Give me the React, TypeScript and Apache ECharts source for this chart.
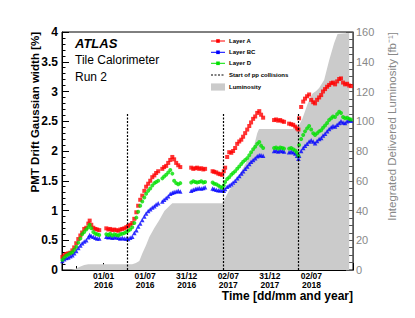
import React, { useEffect, useRef } from "react";
import * as echarts from "echarts";

// Day offsets relative to 01/01/2016
const days = [
  -181, -173, -164, -155, -146, -137, -129, -120, -111, -102, -94, -85, -76, -67, -61, -54, -45, -36, -28, -19,
  12, 21, 29, 38, 47, 56, 65, 73, 82, 91, 100, 108, 117, 126, 135, 144, 152, 161, 170, 179, 187, 196, 205, 214, 223, 231, 240,
  258, 266, 275, 284, 293, 302, 310, 319, 328, 337,
  385, 394, 403, 411, 420, 429, 438, 446, 479, 486, 495, 504, 512, 521, 528,
  534, 543, 552, 561, 569, 578, 587, 596, 605, 613, 622, 631, 640, 648, 657, 666, 675, 684, 692, 701,
  749, 758, 767, 776, 785, 793,
  815, 824, 833, 842, 850, 856,
  859, 868, 877, 885, 894, 903, 912, 921, 929, 938, 947, 956, 964, 973, 982, 991, 1000, 1008, 1017, 1026, 1035, 1043, 1052, 1061, 1070, 1079, 1087,
];

const layerA = [
  0.22, 0.25, 0.27, 0.28, 0.29, 0.33, 0.38, 0.45, 0.52, 0.58, 0.63, 0.69, 0.71, 0.78, 0.83, 0.76, 0.71, 0.69, 0.68, 0.67,
  0.70, 0.68, 0.69, 0.67, 0.68, 0.67, 0.66, 0.68, 0.69, 0.70, 0.72, 0.74, 0.76, 0.79, 0.86, 0.97, 1.08, 1.18, 1.25, 1.33, 1.40, 1.45, 1.50, 1.56, 1.59, 1.63, 1.66,
  1.70, 1.73, 1.75, 1.80, 1.85, 1.90, 1.86, 1.80, 1.76, 1.73,
  1.72, 1.70, 1.71, 1.72, 1.70, 1.71, 1.69, 1.70, 1.66, 1.65, 1.64, 1.62, 1.61, 1.60, 1.66,
  1.72, 1.90, 1.98, 1.97, 2.00, 2.05, 2.12, 2.16, 2.19, 2.24, 2.30, 2.36, 2.42, 2.48, 2.54, 2.58, 2.64, 2.67, 2.61, 2.56,
  2.52, 2.53, 2.51, 2.52, 2.50, 2.49,
  2.46, 2.45, 2.44, 2.41, 2.38, 2.36,
  2.55, 2.74, 2.83, 2.88, 2.92, 2.95, 2.86, 2.82, 2.80, 2.86, 2.90, 2.94, 3.00, 3.04, 3.08, 3.11, 3.14, 3.15, 3.12, 3.17, 3.21, 3.22, 3.15, 3.12, 3.13, 3.10, 3.09,
];

const layerBC = [
  0.15, 0.18, 0.20, 0.21, 0.23, 0.25, 0.28, 0.32, 0.37, 0.41, 0.45, 0.48, 0.50, 0.55, 0.59, 0.57, 0.56, 0.54, 0.53, 0.53,
  0.56, 0.55, 0.56, 0.54, 0.55, 0.55, 0.54, 0.53, 0.54, 0.53, 0.53, 0.52, 0.54, 0.56, 0.62, 0.67, 0.73, 0.78, 0.84, 0.90, 0.95, 0.99, 1.02, 1.05, 1.07, 1.10, 1.12,
  1.15, 1.18, 1.21, 1.24, 1.28, 1.30, 1.31, 1.32, 1.33, 1.32,
  1.33, 1.35, 1.36, 1.37, 1.38, 1.37, 1.38, 1.39, 1.37, 1.36, 1.35, 1.34, 1.34, 1.34, 1.33,
  1.36, 1.40, 1.42, 1.44, 1.47, 1.50, 1.54, 1.58, 1.62, 1.66, 1.70, 1.74, 1.78, 1.82, 1.85, 1.88, 1.91, 1.93, 1.93, 1.92,
  2.00, 2.01, 1.99, 2.01, 2.00, 1.99,
  1.98, 1.99, 1.98, 1.96, 1.92, 1.87,
  1.92, 2.00, 2.05, 2.09, 2.12, 2.16, 2.18, 2.16, 2.13, 2.17, 2.20, 2.22, 2.26, 2.29, 2.33, 2.37, 2.40, 2.42, 2.41, 2.44, 2.47, 2.50, 2.48, 2.47, 2.50, 2.52, 2.51,
];

const layerD = [
  0.17, 0.21, 0.24, 0.26, 0.28, 0.30, 0.34, 0.39, 0.46, 0.53, 0.60, 0.64, 0.68, 0.72, 0.76, 0.70, 0.64, 0.61, 0.60, 0.59,
  0.60, 0.59, 0.61, 0.58, 0.60, 0.59, 0.58, 0.60, 0.61, 0.62, 0.64, 0.66, 0.68, 0.72, 0.79, 0.88, 0.98, 1.08, 1.15, 1.22, 1.28, 1.33, 1.37, 1.42, 1.46, 1.48, 1.50,
  1.54, 1.57, 1.60, 1.64, 1.68, 1.62, 1.50, 1.46, 1.44, 1.46,
  1.47, 1.49, 1.48, 1.47, 1.48, 1.49, 1.47, 1.48, 1.47, 1.45, 1.44, 1.42, 1.40, 1.38, 1.42,
  1.48, 1.53, 1.56, 1.60, 1.63, 1.66, 1.70, 1.74, 1.78, 1.82, 1.85, 1.88, 1.93, 1.98, 2.03, 2.07, 2.12, 2.15, 2.09, 2.05,
  2.05, 2.06, 2.04, 2.06, 2.05, 2.04,
  2.04, 2.05, 2.03, 2.01, 1.97, 1.92,
  2.10, 2.20, 2.27, 2.33, 2.38, 2.42, 2.36, 2.30, 2.27, 2.30, 2.33, 2.35, 2.39, 2.43, 2.47, 2.52, 2.55, 2.58, 2.57, 2.62, 2.66, 2.64, 2.57, 2.55, 2.56, 2.54, 2.53,
];

// Integrated delivered luminosity [fb^-1]
const lumDays = [
  -142, -124, -107, -85, -67, 126, 142, 157, 171, 187, 201, 223, 245, 267, 289, 302, 522, 530, 552, 574, 596, 618, 640,
  662, 675, 683, 852, 859, 874, 897, 918, 934, 947, 969, 991, 1013, 1028, 1079,
];
const lumValues = [
  0, 0.7, 2.0, 3.4, 3.8, 3.9, 4.7, 6.1, 11.4, 16.8, 22.2, 28.2, 33.6, 39.7, 43.0, 44.8, 44.8, 47.0, 53.8, 57.8, 63.9, 70.0, 76.0,
  84.0, 92.0, 94.8, 94.8, 97.5, 102.0, 112.0, 118.7, 120.3, 122.4, 127.7, 141.0, 152.6, 158.7, 159.3,
];

const ppStartDays = [106, 527, 856];
const ppLineTop = 2.63;

const xTickLabels = ["01/01\n2016", "01/07\n2016", "31/12\n2016", "02/07\n2017", "31/12\n2017", "02/07\n2018"];
const HALF_YEAR = 182.625;

const legendItems = ["Layer A", "Layer BC", "Layer D", "Start of pp collisions", "Luminosity"];

export default function App() {
  const ref = useRef<HTMLDivElement>(null);
  useEffect(() => {
    const chart = echarts.init(ref.current!, null, { renderer: "svg" });
    const font = "'Liberation Sans', Arial, Helvetica, sans-serif";
    const zip = (vals: number[]) => days.map((d, i) => [d, vals[i]]);
    const lumData = lumDays.map((d, i) => [d, lumValues[i]]);

    const legendX1 = 211;
    const legendX2 = 225;
    const legendTextX = 229;
    const legendY = [41, 52.3, 63.3, 75, 87];
    const legendColors = ["#ff0000", "#0000ff", "#00e000"];
    const legendGraphics: any[] = [];
    legendColors.forEach((c, i) => {
      legendGraphics.push({
        type: "line",
        shape: { x1: legendX1, y1: legendY[i], x2: legendX2, y2: legendY[i] },
        style: { stroke: c, lineWidth: 1 },
      });
      legendGraphics.push({
        type: "rect",
        shape: { x: 216.2, y: legendY[i] - 1.8, width: 3.6, height: 3.6 },
        style: { fill: c },
      });
    });
    legendGraphics.push({
      type: "line",
      shape: { x1: legendX1, y1: legendY[3], x2: legendX2, y2: legendY[3] },
      style: { stroke: "#000", lineWidth: 1.2, lineDash: [2, 1.5] },
    });
    legendGraphics.push({
      type: "rect",
      shape: { x: legendX1, y: legendY[4] - 3.6, width: legendX2 - legendX1, height: 7.2 },
      style: { fill: "#cbcbcb" },
    });
    legendItems.forEach((t, i) => {
      legendGraphics.push({
        type: "text",
        x: legendTextX,
        y: legendY[i],
        style: {
          text: t,
          fontFamily: font,
          fontSize: 6,
          fontWeight: "bold",
          fill: "#000",
          align: "left",
          verticalAlign: "middle",
        },
      });
    });

    const option: any = {
      animation: false,
      backgroundColor: "#fff",
      grid: {
        left: 62,
        right: 62,
        top: 32,
        bottom: 48,
        show: true,
        borderColor: "#000",
        borderWidth: 1,
        backgroundColor: "transparent",
      },
      xAxis: {
        type: "value",
        min: -HALF_YEAR,
        max: 6 * HALF_YEAR,
        interval: HALF_YEAR,
        axisLine: { show: true, onZero: false, lineStyle: { color: "#000", width: 1 } },
        axisTick: { show: true, inside: true, length: 7, lineStyle: { color: "#000" } },
        minorTick: { show: true, splitNumber: 3, length: 4, lineStyle: { color: "#000" } },
        splitLine: { show: false },
        minorSplitLine: { show: false },
        axisLabel: {
          show: true,
          margin: 2,
          fontFamily: font,
          fontSize: 8.5,
          fontWeight: "bold",
          color: "#000",
          lineHeight: 8.5,
          showMinLabel: true,
          showMaxLabel: true,
          formatter: (v: number) => {
            const idx = Math.round(v / HALF_YEAR);
            return idx >= 0 && idx < xTickLabels.length ? xTickLabels[idx] : "";
          },
        },
      },
      yAxis: [
        {
          type: "value",
          position: "left",
          min: 0,
          max: 4,
          interval: 0.5,
          axisLine: { show: true, onZero: false, lineStyle: { color: "#000", width: 1 } },
          axisTick: { show: true, inside: true, length: 7, lineStyle: { color: "#000" } },
          minorTick: { show: true, splitNumber: 5, length: 3.5, lineStyle: { color: "#000" } },
          splitLine: { show: false },
          axisLabel: {
            margin: 4,
            fontFamily: font,
            fontSize: 12,
            fontWeight: "bold",
            color: "#000",
          },
        },
        {
          type: "value",
          position: "right",
          min: 0,
          max: 160,
          interval: 20,
          axisLine: { show: true, onZero: false, lineStyle: { color: "#555", width: 1 } },
          axisTick: { show: true, inside: true, length: 7, lineStyle: { color: "#555" } },
          minorTick: { show: true, splitNumber: 4, length: 4, lineStyle: { color: "#555" } },
          splitLine: { show: false },
          axisLabel: {
            margin: 3,
            fontFamily: font,
            fontSize: 11,
            color: "#888",
          },
        },
      ],
      series: [
        {
          name: "Luminosity",
          type: "line",
          yAxisIndex: 1,
          data: lumData,
          showSymbol: false,
          symbol: "none",
          lineStyle: { width: 0 },
          areaStyle: { color: "#cbcbcb", opacity: 1 },
          color: "#cbcbcb",
          silent: true,
          z: 1,
        },
        {
          name: "Start of pp collisions",
          type: "line",
          data: [],
          silent: true,
          z: 3,
          markLine: {
            silent: true,
            symbol: ["none", "none"],
            label: { show: false },
            lineStyle: { color: "#000", type: [2, 1.5], width: 1.2 },
            data: ppStartDays.map((d) => [{ coord: [d, 0] }, { coord: [d, ppLineTop] }]),
          },
        },
        {
          name: "Layer A",
          type: "scatter",
          data: zip(layerA),
          symbol: "rect",
          symbolSize: 4,
          itemStyle: { color: "#ff0000" },
          z: 4,
        },
        {
          name: "Layer BC",
          type: "scatter",
          data: zip(layerBC),
          symbol: "triangle",
          symbolSize: 4.5,
          itemStyle: { color: "#0000ff" },
          z: 4,
        },
        {
          name: "Layer D",
          type: "scatter",
          data: zip(layerD),
          symbol: "circle",
          symbolSize: 4,
          itemStyle: { color: "#00e000" },
          z: 4,
        },
      ],
      graphic: [
        {
          type: "text",
          x: 35,
          y: 32,
          rotation: Math.PI / 2,
          style: {
            text: "PMT Drift Gaussian width [%]",
            fontFamily: font,
            fontSize: 11.5,
            fontWeight: "bold",
            fill: "#000",
            align: "right",
            verticalAlign: "middle",
          },
        },
        {
          type: "text",
          x: 392,
          y: 32,
          rotation: Math.PI / 2,
          style: {
            text: "Integrated Delivered Luminosity [fb\u207B\u00B9]",
            fontFamily: font,
            fontSize: 11.5,
            fill: "#888",
            align: "right",
            verticalAlign: "middle",
          },
        },
        {
          type: "text",
          x: 353,
          y: 296,
          style: {
            text: "Time [dd/mm and year]",
            fontFamily: font,
            fontSize: 12,
            fontWeight: "bold",
            fill: "#000",
            align: "right",
            verticalAlign: "middle",
          },
        },
        {
          type: "text",
          x: 75,
          y: 43.5,
          style: {
            text: "ATLAS",
            fontFamily: font,
            fontSize: 13,
            fontWeight: "bold",
            fontStyle: "italic",
            fill: "#000",
            align: "left",
            verticalAlign: "middle",
          },
        },
        {
          type: "text",
          x: 75,
          y: 60,
          style: {
            text: "Tile Calorimeter",
            fontFamily: font,
            fontSize: 12,
            fill: "#000",
            align: "left",
            verticalAlign: "middle",
          },
        },
        {
          type: "text",
          x: 75,
          y: 77,
          style: {
            text: "Run 2",
            fontFamily: font,
            fontSize: 12,
            fill: "#000",
            align: "left",
            verticalAlign: "middle",
          },
        },
        ...legendGraphics,
      ],
    };
    chart.setOption(option);
    return () => chart.dispose();
  }, []);
  return (
    <div
      ref={ref}
      style={{ position: "absolute", left: 0, top: 0, width: 415, height: 318 }}
    />
  );
}
